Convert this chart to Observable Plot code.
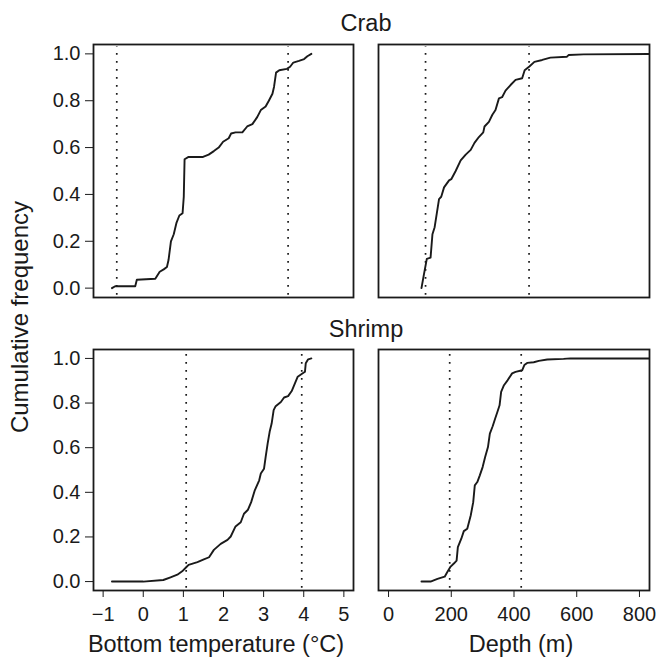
<!DOCTYPE html>
<html>
<head>
<meta charset="utf-8">
<script src="https://cdn.jsdelivr.net/npm/d3@7"></script>
<script src="https://cdn.jsdelivr.net/npm/@observablehq/plot@0.6"></script>
<style>
  html, body { margin: 0; padding: 0; background: #fff; }
  #chart { position: relative; width: 659px; height: 657px; overflow: hidden; }
  #chart svg { position: absolute; }
</style>
</head>
<body>
<div id="chart"></div>
<script>
// ---- Data ----
const panelTitles = ["Crab", "Shrimp"];
const xLabels = ["Bottom temperature (°C)", "Depth (m)"];
const yLabel = "Cumulative frequency";
const yTicks = [0, 0.2, 0.4, 0.6, 0.8, 1.0];
const tempTicks = [-1, 0, 1, 2, 3, 4, 5];
const depthTicks = [0, 200, 400, 600, 800];

// Crab – bottom temperature
const crabTempX = [-0.78, -0.70, -0.20, -0.16, 0.30, 0.41, 0.51, 0.59, 0.63, 0.69, 0.76, 0.83, 0.90, 0.98, 1.01, 1.03, 1.13, 1.49, 1.63, 1.76, 1.88, 1.99, 2.13, 2.19, 2.30, 2.47, 2.59, 2.72, 2.84, 2.93, 3.05, 3.13, 3.22, 3.26, 3.31, 3.39, 3.58, 3.66, 3.74, 3.88, 4.01, 4.09, 4.19];
const crabTempY = [0.000, 0.008, 0.008, 0.036, 0.040, 0.070, 0.080, 0.090, 0.120, 0.200, 0.230, 0.280, 0.310, 0.320, 0.390, 0.550, 0.560, 0.560, 0.570, 0.585, 0.600, 0.625, 0.640, 0.660, 0.665, 0.665, 0.690, 0.700, 0.730, 0.760, 0.775, 0.800, 0.830, 0.860, 0.920, 0.930, 0.936, 0.945, 0.963, 0.970, 0.978, 0.990, 1.000];
const crabTempLimits = [-0.66, 3.61];

// Crab – depth
const crabDepthX = [105, 113, 122, 134, 140, 147, 154, 161, 168, 177, 193, 200, 214, 230, 246, 262, 274, 288, 302, 306, 320, 331, 341, 352, 362, 373, 389, 405, 426, 434, 449, 465, 490, 516, 569, 574, 622, 860];
const crabDepthY = [0.000, 0.060, 0.125, 0.130, 0.230, 0.260, 0.320, 0.380, 0.390, 0.430, 0.460, 0.465, 0.500, 0.545, 0.570, 0.590, 0.620, 0.645, 0.665, 0.690, 0.710, 0.740, 0.760, 0.810, 0.815, 0.843, 0.867, 0.889, 0.896, 0.930, 0.946, 0.966, 0.974, 0.984, 0.988, 0.995, 0.998, 1.000];
const crabDepthLimits = [118, 448];

// Shrimp – bottom temperature
const shrimpTempX = [-0.78, 0.00, 0.50, 0.68, 0.85, 0.97, 1.07, 1.13, 1.35, 1.51, 1.64, 1.76, 1.93, 2.10, 2.18, 2.30, 2.43, 2.51, 2.61, 2.69, 2.78, 2.89, 2.93, 3.01, 3.05, 3.10, 3.15, 3.20, 3.25, 3.30, 3.43, 3.51, 3.61, 3.70, 3.78, 3.85, 3.93, 4.03, 4.05, 4.11, 4.19];
const shrimpTempY = [0.000, 0.000, 0.007, 0.019, 0.031, 0.046, 0.064, 0.075, 0.087, 0.099, 0.109, 0.142, 0.169, 0.187, 0.202, 0.247, 0.266, 0.304, 0.322, 0.356, 0.409, 0.454, 0.484, 0.506, 0.558, 0.618, 0.671, 0.708, 0.768, 0.786, 0.805, 0.825, 0.831, 0.854, 0.888, 0.918, 0.928, 0.940, 0.978, 0.996, 1.000];
const shrimpTempLimits = [1.07, 3.95];

// Shrimp – depth
const shrimpDepthX = [105, 134, 156, 179, 187, 198, 209, 217, 221, 232, 240, 251, 262, 270, 275, 283, 291, 300, 308, 317, 323, 332, 340, 347, 354, 359, 368, 380, 394, 405, 426, 433, 442, 463, 479, 506, 558, 580, 860];
const shrimpDepthY = [0.000, 0.000, 0.012, 0.022, 0.042, 0.067, 0.082, 0.094, 0.154, 0.192, 0.226, 0.237, 0.296, 0.356, 0.431, 0.446, 0.476, 0.513, 0.558, 0.603, 0.663, 0.696, 0.731, 0.760, 0.790, 0.850, 0.880, 0.903, 0.933, 0.940, 0.947, 0.970, 0.980, 0.983, 0.989, 0.995, 0.998, 1.000, 1.000];
const shrimpDepthLimits = [195, 423];

// ---- Drawing ----
const FONT = "'Liberation Sans', Arial, Helvetica, sans-serif";
const INK = "#1a1a1a";
const fmtTick = d => d < 0 ? "\u2212" + Math.abs(d) : String(d);

const cols = [
  {left: 0, width: 360, ml: 93, mr: 7, domain: [-1.24, 5.24], ticks: tempTicks},
  {left: 360, width: 299, ml: 18, mr: 10, domain: [-32, 832], ticks: depthTicks}
];
const rows = [
  {top: 0, height: 310, mt: 44, mb: 13},
  {top: 320, height: 337, mt: 29, mb: 67}
];
const series = [
  [[crabTempX, crabTempY, crabTempLimits], [crabDepthX, crabDepthY, crabDepthLimits]],
  [[shrimpTempX, shrimpTempY, shrimpTempLimits], [shrimpDepthX, shrimpDepthY, shrimpDepthLimits]]
];

const chart = document.getElementById("chart");

rows.forEach((r, ri) => {
  cols.forEach((c, ci) => {
    const [xs, ys, lims] = series[ri][ci];
    const pts = xs.map((x, i) => ({x, y: ys[i]}));
    const showX = ri === 1, showY = ci === 0;
    const svg = Plot.plot({
      width: c.width,
      height: r.height,
      marginLeft: c.ml,
      marginRight: c.mr,
      marginTop: r.mt,
      marginBottom: r.mb,
      style: {fontFamily: FONT, fontSize: "20px", color: INK, background: "transparent", overflow: "visible"},
      x: {domain: c.domain, ticks: c.ticks, tickFormat: fmtTick, axis: showX ? "bottom" : null, tickSize: 7, tickPadding: 9, label: null},
      y: {domain: [-0.04, 1.04], ticks: yTicks, tickFormat: d3.format(".1f"), axis: showY ? "left" : null, tickSize: 8, tickPadding: 5, label: null},
      marks: [
        Plot.ruleX(lims, {stroke: INK, strokeWidth: 1.7, strokeDasharray: "1.7,6.3", y1: -0.03, y2: 1.03}),
        Plot.line(pts, {x: "x", y: "y", stroke: INK, strokeWidth: 1.9, clip: true}),
        Plot.frame({stroke: INK, strokeWidth: 1.8})
      ]
    });
    svg.style.left = c.left + "px";
    svg.style.top = r.top + "px";
    chart.appendChild(svg);
  });
});

// Labels overlay (titles, axis titles)
const ov = d3.select(chart).append("svg")
  .attr("width", 659).attr("height", 657)
  .style("left", "0px").style("top", "0px")
  .style("pointer-events", "none")
  .attr("font-family", FONT).attr("fill", INK);

ov.append("text").attr("x", 366).attr("y", 31).attr("text-anchor", "middle").attr("font-size", 23.5).text(panelTitles[0]);
ov.append("text").attr("x", 366).attr("y", 337).attr("text-anchor", "middle").attr("font-size", 23.5).text(panelTitles[1]);
ov.append("text").attr("x", 216).attr("y", 651.5).attr("text-anchor", "middle").attr("font-size", 23.5).text(xLabels[0]);
ov.append("text").attr("x", 521).attr("y", 651.5).attr("text-anchor", "middle").attr("font-size", 23.5).text(xLabels[1]);
ov.append("text").attr("transform", "translate(28,317) rotate(-90)").attr("text-anchor", "middle").attr("font-size", 24).text(yLabel);
</script>
</body>
</html>
